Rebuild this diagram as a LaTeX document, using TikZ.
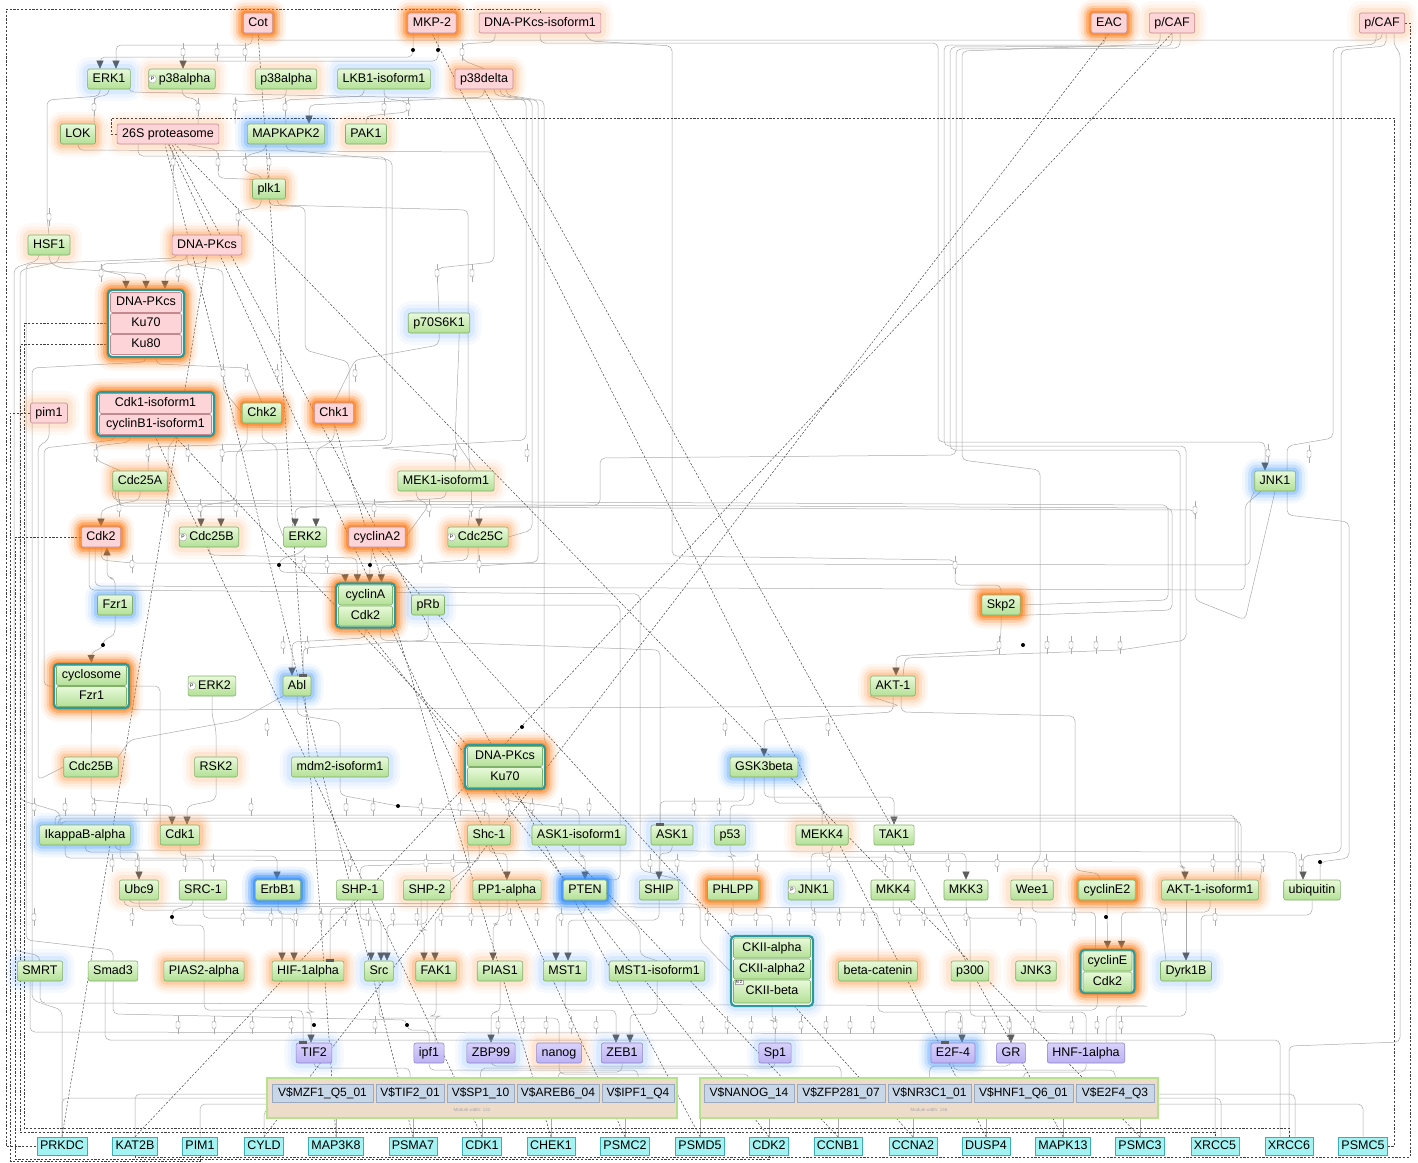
\documentclass[tikz,border=0pt]{standalone}
\usepackage{fontspec}
\setmainfont{Liberation Sans}
\usetikzlibrary{arrows.meta,backgrounds}
\pgfdeclarelayer{bgw}
\pgfsetlayers{bgw,background,main}
\definecolor{gTop}{HTML}{E8F9DA}
\definecolor{gBot}{HTML}{B3E096}
\definecolor{gBd}{HTML}{80B06A}
\definecolor{pF}{HTML}{FDD4D7}
\definecolor{pBd}{HTML}{C4898E}
\definecolor{uTop}{HTML}{D9D2FB}
\definecolor{uBot}{HTML}{BCB2F3}
\definecolor{uBd}{HTML}{8F86CF}
\definecolor{cF}{HTML}{A4F3F3}
\definecolor{cBd}{HTML}{3BAEB4}
\definecolor{tl}{HTML}{2B9A9D}
\definecolor{hOr}{HTML}{FF7A10}
\definecolor{hBl}{HTML}{2F8CFF}
\definecolor{wg}{HTML}{ABABAB}
\definecolor{arr}{HTML}{5E5E5E}
\definecolor{modG}{HTML}{B5E28A}
\definecolor{modT}{HTML}{EEDCCB}
\definecolor{cellB}{HTML}{C8D7E7}
\definecolor{cellBd}{HTML}{9AA9BF}
\newcommand{\nf}{\fontsize{12.5}{14}\selectfont}
\tikzset{
 nb/.style={rounded corners=2pt, inner xsep=5pt, inner ysep=0pt, minimum height=20pt, font=\nf, text height=9.3pt, text depth=2.7pt, line width=0.6pt},
 gn/.style={nb, draw=gBd, top color=gTop, bottom color=gBot},
 pk/.style={nb, draw=pBd, fill=pF},
 pu/.style={nb, draw=uBd, top color=uTop, bottom color=uBot},
 cy/.style={nb, draw=cBd, fill=cF, rounded corners=0pt, minimum height=18pt, inner xsep=3pt},
 rw/.style={inner xsep=0pt, rounded corners=1.5pt},
 hO/.style={preaction={draw=hOr, draw opacity=.07, line width=27pt, line join=round}, preaction={draw=hOr, draw opacity=.12, line width=21pt, line join=round}, preaction={draw=hOr, draw opacity=.22, line width=15pt, line join=round}, preaction={draw=hOr, draw opacity=.35, line width=10pt, line join=round}, preaction={draw=hOr, draw opacity=.55, line width=5pt, line join=round}},
 hOm/.style={preaction={draw=hOr, draw opacity=.05, line width=25pt, line join=round}, preaction={draw=hOr, draw opacity=.08, line width=19pt, line join=round}, preaction={draw=hOr, draw opacity=.12, line width=13pt, line join=round}, preaction={draw=hOr, draw opacity=.18, line width=7pt, line join=round}},
 hOl/.style={preaction={draw=hOr, draw opacity=.04, line width=24pt, line join=round}, preaction={draw=hOr, draw opacity=.06, line width=17pt, line join=round}, preaction={draw=hOr, draw opacity=.09, line width=10pt, line join=round}},
 hBs/.style={preaction={draw=hBl, draw opacity=.08, line width=27pt, line join=round}, preaction={draw=hBl, draw opacity=.14, line width=21pt, line join=round}, preaction={draw=hBl, draw opacity=.25, line width=15pt, line join=round}, preaction={draw=hBl, draw opacity=.4, line width=10pt, line join=round}, preaction={draw=hBl, draw opacity=.6, line width=5pt, line join=round}},
 hB/.style={preaction={draw=hBl, draw opacity=.05, line width=25pt, line join=round}, preaction={draw=hBl, draw opacity=.09, line width=19pt, line join=round}, preaction={draw=hBl, draw opacity=.14, line width=13pt, line join=round}, preaction={draw=hBl, draw opacity=.22, line width=7pt, line join=round}},
 hBl/.style={preaction={draw=hBl, draw opacity=.04, line width=24pt, line join=round}, preaction={draw=hBl, draw opacity=.06, line width=17pt, line join=round}, preaction={draw=hBl, draw opacity=.09, line width=10pt, line join=round}},
 cxo/.style={draw=tl, line width=2.2pt, rounded corners=4pt, fill=white, inner sep=0pt},
 pcirc/.style={circle, draw=gray!70, fill=white, inner sep=0pt, minimum size=8pt, font=\fontsize{5}{5}\selectfont},
 wire/.style={draw=wg, line width=0.5pt, rounded corners=5pt},
 wa/.style={wire, -{Triangle[length=8pt,width=7pt,color=arr]}},
 dsh/.style={draw=black!75, line width=0.45pt, dash pattern=on 2.2pt off 1.6pt},
 mk/.style={draw=gray!80, fill=white, line width=0.4pt, minimum width=4pt, minimum height=7pt, inner sep=0pt, rounded corners=1pt},
 dotm/.style={circle, fill=black, inner sep=0pt, minimum size=4pt},
 barm/.style={fill=arr, minimum width=8pt, minimum height=3pt, inner sep=0pt},
 modo/.style={draw=modG, line width=2pt, fill=modT, inner sep=0pt},
 cell/.style={draw=cellBd, fill=cellB, line width=0.6pt, inner sep=0pt, minimum height=18pt, font=\fontsize{12}{14}\selectfont},
 mlab/.style={font=\fontsize{4.5}{5}\selectfont, text=gray!70, inner sep=0pt}
}
\begin{document}
\begin{tikzpicture}[x=1pt,y=-1pt]
\useasboundingbox (0,0) rectangle (1418,1162);
\begin{pgfonlayer}{bgw}\fill[white] (0,0) rectangle (1418,1162);\end{pgfonlayer}
% ---------- nodes ----------
\node[pk,hO] (cot) at (258,23) {Cot};
\node[pk,hO] (mkp2) at (432,23) {MKP-2};
\node[pk,hOl] (dnapkiso) at (540,23) {DNA-PKcs-isoform1};
\node[pk,hO] (eac) at (1109,23) {EAC};
\node[pk,hOl] (pcafa) at (1172,23) {p/CAF};
\node[pk,hOl] (pcafb) at (1382,23) {p/CAF};
\node[gn,hBl] (erk1) at (109,79) {ERK1};
\node[gn,hOl] (p38a) at (182,79) {\hspace*{5pt}p38alpha};
\node[pcirc] (pc1) at ([xshift=4pt]p38a.west) {P};
\node[gn,hOl] (p38b) at (286,79) {p38alpha};
\node[gn,hBl] (lkb1) at (384,79) {LKB1-isoform1};
\node[pk,hOm] (p38d) at (484,79) {p38delta};
\node[gn,hOm] (lok) at (78,134) {LOK};
\node[pk,hOl] (s26) at (168,134) {26S proteasome};
\node[gn,hB] (mapk2) at (286,134) {MAPKAPK2};
\node[gn,hOl] (pak1) at (366,134) {PAK1};
\node[gn,hOm] (plk1) at (269,189) {plk1};
\node[gn,hOl] (hsf1) at (49,245) {HSF1};
\node[pk,hOm] (dnapk) at (207,245) {DNA-PKcs};
\node[cxo,hO,minimum width=76pt,minimum height=67pt] (cx1) at (146,323.5) {};
\node[pk,rw,minimum width=71pt] (cx1a) at (146,302.5) {DNA-PKcs};
\node[pk,rw,minimum width=71pt] (cx1b) at (146,323.5) {Ku70};
\node[pk,rw,minimum width=71pt] (cx1c) at (146,344.5) {Ku80};
\node[gn,hBl] (p70) at (439,323) {p70S6K1};
\node[pk,hOl] (pim1) at (49,413) {pim1};
\node[cxo,hO,minimum width=117pt,minimum height=44pt] (cx2) at (155.5,414) {};
\node[pk,rw,minimum width=112pt] (cx2a) at (155.5,403.5) {Cdk1-isoform1};
\node[pk,rw,minimum width=112pt] (cx2b) at (155.5,424.5) {cyclinB1-isoform1};
\node[gn,hO] (chk2) at (262,413) {Chk2};
\node[pk,hO] (chk1) at (334,413) {Chk1};
\node[gn,hOm] (cdc25a) at (140,481) {Cdc25A};
\node[gn,hOl] (mek1) at (446,481) {MEK1-isoform1};
\node[gn,hB] (jnk1a) at (1275,481) {JNK1};
\node[pk,hO] (cdk2) at (101,537) {Cdk2};
\node[gn,hOl] (cdc25b) at (209,537) {\hspace*{5pt}Cdc25B};
\node[pcirc] (pc2) at ([xshift=4pt]cdc25b.west) {P};
\node[gn] (erk2a) at (305,537) {ERK2};
\node[pk,hO] (cyca2) at (377,537) {cyclinA2};
\node[gn,hOm] (cdc25c) at (478,537) {\hspace*{5pt}Cdc25C};
\node[pcirc] (pc3) at ([xshift=4pt]cdc25c.west) {P};
\node[gn,hB] (fzr1) at (115,605) {Fzr1};
\node[cxo,hO,minimum width=59pt,minimum height=44pt] (cx3) at (365.5,605.5) {};
\node[gn,rw,minimum width=54pt] (cx3a) at (365.5,595) {cyclinA};
\node[gn,rw,minimum width=54pt] (cx3b) at (365.5,616) {Cdk2};
\node[gn,hBl] (prb) at (428,605) {pRb};
\node[gn,hO] (skp2) at (1001,605) {Skp2};
\node[cxo,hO,minimum width=75pt,minimum height=44pt] (cx4) at (91.5,686) {};
\node[gn,rw,minimum width=70pt] (cx4a) at (91.5,675.5) {cyclosome};
\node[gn,rw,minimum width=70pt] (cx4b) at (91.5,696.5) {Fzr1};
\node[gn] (erk2b) at (212,686) {\hspace*{5pt}ERK2};
\node[pcirc] (pc4) at ([xshift=4pt]erk2b.west) {P};
\node[gn,hB] (abl) at (297,686) {Abl};
\node[gn,hOm] (akt1) at (893,686) {AKT-1};
\node[gn,hOm] (cdc25b2) at (91,767) {Cdc25B};
\node[gn,hOl] (rsk2) at (216,767) {RSK2};
\node[gn,hBl] (mdm2) at (340,767) {mdm2-isoform1};
\node[cxo,hO,minimum width=80pt,minimum height=44pt] (cx5) at (505,767) {};
\node[gn,rw,minimum width=75pt] (cx5a) at (505,756.5) {DNA-PKcs};
\node[gn,rw,minimum width=75pt] (cx5b) at (505,777.5) {Ku70};
\node[gn,hB] (gsk3b) at (764,767) {GSK3beta};
\node[gn,hB] (ikba) at (85,835) {IkappaB-alpha};
\node[gn,hOm] (cdk1) at (180,835) {Cdk1};
\node[gn,hOm] (shc1) at (489,835) {Shc-1};
\node[gn,hBl] (ask1i) at (579,835) {ASK1-isoform1};
\node[gn,hBl] (ask1) at (672,835) {ASK1};
\node[gn,hBl] (p53) at (730,835) {p53};
\node[gn,hOl] (mekk4) at (822,835) {MEKK4};
\node[gn] (tak1) at (894,835) {TAK1};
\node[gn,hOl] (ubc9) at (139,890) {Ubc9};
\node[gn] (src1) at (203,890) {SRC-1};
\node[gn,hBs] (erbb1) at (278,890) {ErbB1};
\node[gn] (shp1) at (360,890) {SHP-1};
\node[gn,hOl] (shp2) at (427,890) {SHP-2};
\node[gn,hOm] (pp1a) at (507,890) {PP1-alpha};
\node[gn,hBs] (pten) at (585,890) {PTEN};
\node[gn,hBl] (ship) at (659,890) {SHIP};
\node[gn,hO] (phlpp) at (733,890) {PHLPP};
\node[gn,hBl] (jnk1b) at (811,890) {\hspace*{5pt}JNK1};
\node[pcirc] (pc5) at ([xshift=4pt]jnk1b.west) {P};
\node[gn] (mkk4) at (893,890) {MKK4};
\node[gn] (mkk3) at (966,890) {MKK3};
\node[gn,hOl] (wee1) at (1032,890) {Wee1};
\node[gn,hO] (cyce2) at (1107,890) {cyclinE2};
\node[gn,hOm] (akt1i) at (1210,890) {AKT-1-isoform1};
\node[gn] (ubiq) at (1312,890) {ubiquitin};
\node[gn,hBl] (smrt) at (40,971) {SMRT};
\node[gn] (smad3) at (113,971) {Smad3};
\node[gn,hOm] (pias2) at (204,971) {PIAS2-alpha};
\node[gn,hOm] (hif1a) at (308,971) {HIF-1alpha};
\node[gn,hBl] (src) at (379,971) {Src};
\node[gn,hOm] (fak1) at (436,971) {FAK1};
\node[gn,hOl] (pias1) at (500,971) {PIAS1};
\node[gn,hBl] (mst1) at (565,971) {MST1};
\node[gn,hBl] (mst1i) at (657,971) {MST1-isoform1};
\node[cxo,hBl,minimum width=82pt,minimum height=70pt] (cx6) at (772,971) {};
\node[gn,rw,minimum width=77pt] (cx6a) at (772,948) {CKII-alpha};
\node[gn,rw,minimum width=77pt] (cx6b) at (772,969) {CKII-alpha2};
\node[gn,rw,minimum width=77pt,minimum height=23pt] (cx6c) at (772,991.5) {CKII-beta};
\node[draw=gray!70, fill=white, inner sep=0.6pt, font=\fontsize{4}{4}\selectfont] (n2tag) at (739,982) {N 2};
\node[gn,hOm] (bcat) at (878,971) {beta-catenin};
\node[gn,hOl] (p300) at (970,971) {p300};
\node[gn,hOl] (jnk3) at (1036,971) {JNK3};
\node[cxo,hO,minimum width=54pt,minimum height=43pt] (cx7) at (1107.5,971.5) {};
\node[gn,rw,minimum width=49pt] (cx7a) at (1107.5,961) {cyclinE};
\node[gn,rw,minimum width=49pt] (cx7b) at (1107.5,982) {Cdk2};
\node[gn,hBl] (dyrk1b) at (1186,971) {Dyrk1B};
\node[pu,hBl] (tif2) at (314,1053) {TIF2};
\node[pu] (ipf1) at (429,1053) {ipf1};
\node[pu,hBl] (zbp99) at (491,1053) {ZBP99};
\node[pu,hOl] (nanog) at (559,1053) {nanog};
\node[pu,hBl] (zeb1) at (622,1053) {ZEB1};
\node[pu,hBl] (sp1) at (775,1053) {Sp1};
\node[pu,hB] (e2f4) at (953,1053) {E2F-4};
\node[pu] (gr) at (1011,1053) {GR};
\node[pu] (hnf1a) at (1086,1053) {HNF-1alpha};
% modules
\node[modo,minimum width=410pt,minimum height=40pt] (m1) at (472,1098) {};
\node[cell,minimum width=101pt] (m1a) at (322.5,1093) {V\$MZF1\_Q5\_01};
\node[cell,minimum width=68pt] (m1b) at (410,1093) {V\$TIF2\_01};
\node[cell,minimum width=67pt] (m1c) at (480.5,1093) {V\$SP1\_10};
\node[cell,minimum width=82pt] (m1d) at (558,1093) {V\$AREB6\_04};
\node[cell,minimum width=72pt] (m1e) at (638,1093) {V\$IPF1\_Q4};
\node[mlab] (m1l) at (472,1110) {Module width: 122};
\node[modo,minimum width=458pt,minimum height=40pt] (m2) at (929,1098) {};
\node[cell,minimum width=90pt] (m2a) at (749,1093) {V\$NANOG\_14};
\node[cell,minimum width=88pt] (m2b) at (841,1093) {V\$ZFP281\_07};
\node[cell,minimum width=83pt] (m2c) at (929.5,1093) {V\$NR3C1\_01};
\node[cell,minimum width=99pt] (m2d) at (1023.5,1093) {V\$HNF1\_Q6\_01};
\node[cell,minimum width=78pt] (m2e) at (1115,1093) {V\$E2F4\_Q3};
\node[mlab] (m2l) at (929,1110) {Module width: 146};
% genes
\node[cy] (prkdc) at (62,1146) {PRKDC};
\node[cy] (kat2b) at (135,1146) {KAT2B};
\node[cy] (pim1g) at (200,1146) {PIM1};
\node[cy] (cyld) at (264,1146) {CYLD};
\node[cy] (map3k8) at (336,1146) {MAP3K8};
\node[cy] (psma7) at (413,1146) {PSMA7};
\node[cy] (cdk1g) at (482,1146) {CDK1};
\node[cy] (chek1) at (551,1146) {CHEK1};
\node[cy] (psmc2) at (625,1146) {PSMC2};
\node[cy] (psmd5) at (700,1146) {PSMD5};
\node[cy] (cdk2g) at (769,1146) {CDK2};
\node[cy] (ccnb1) at (838,1146) {CCNB1};
\node[cy] (ccna2) at (913,1146) {CCNA2};
\node[cy] (dusp4) at (986,1146) {DUSP4};
\node[cy] (mapk13) at (1063,1146) {MAPK13};
\node[cy] (psmc3) at (1140,1146) {PSMC3};
\node[cy] (xrcc5) at (1215,1146) {XRCC5};
\node[cy] (xrcc6) at (1289,1146) {XRCC6};
\node[cy] (psmc5) at (1363,1146) {PSMC5};
% modifier markers with stubs
\foreach \x/\y [count=\i] in {183/52,217/52,245/52,462/52,
 94/107,198/107,235/107,285/107,384/107,408/107,
 173/162,218/162,245/162,269/162, 49/217,238/217,
 101/273,178/273,437/273,472/273, 223/373,247/373,277/373,355/373,
 96/453,148/453,188/453,222/453,455/453,527/453,
 119/508,168/508,200/508,236/508,374/508,429/508,471/508,
 132/564,304/564,327/564,421/564,479/564, 283/645,307/645,
 267/727,725/727,828/727,
 34/807,65/807,94/807,146/807,251/807,346/807,373/807,421/807,460/807,484/807,508/807,532/807,561/807,589/807,694/807,719/807,
 112/863,137/863,185/863,213/863,350/863,426/863,453/863,650/863,677/863,757/863,829/863,885/863,910/863,948/863,997/863,1046/863,1213/863,1238/863,1263/863,1301/863,
 34/917,132/917,243/917,271/917,296/917,321/917,345/917,368/917,393/917,417/917,441/917,471/917,510/917,537/917,561/917,682/917,707/917,731/917,756/917,789/917,814/917,839/917,863/917,899/917,924/917,966/917,1020/917,1074/917,1165/917,1215/917,
 178/1025,214/1025,252/1025,291/1025,375/1025,498/1025,523/1025,546/1025,571/1025,596/1025,702/1025,727/1025,751/1025,775/1025,801/1025,826/1025,850/1025,873/1025,960/1025,984/1025,1009/1025,1033/1025,1072/1025,1097/1025,1121/1025,
 1268/453,1309/454,1195/510,955/565,999/645,1047/645,1071/645,1096/645,1120/645}
 {\draw[wire] (\x,\y-9) -- (\x,\y+9); \node[mk] (mk\i) at (\x,\y) {};}
\foreach \x/\y [count=\i] in {413/50,438/50,103/645,279/565,370/565,398/806,172/917,314/1025,407/1025,1023/645,1106/917,1320/862,522/727}
 {\node[dotm] (dot\i) at (\x,\y) {};}
\node[barm] (bar1) at (303,675) {};
\node[barm] (bar2) at (660,824) {};
\node[barm] (bar3) at (330,960) {};
\node[barm] (bar4) at (303,1042) {};
\node[barm] (bar5) at (945,1042) {};
% ---------- connectors ----------
\begin{scope}[on background layer]
% top
\draw[wire] (cot.south) -- (258,40) -- (1382,40) -- (pcafb.south);
\draw[wa] ([xshift=-6pt]cot.south) -- (252,45) -- (116,45) -- ([xshift=7pt]erk1.north);
\draw[wa] ([xshift=-19pt]mkp2.south) -- (413,57) -- (100,57) -- ([xshift=-9pt]erk1.north);
\draw[wa] ([xshift=6pt]mkp2.south) -- (438,61) -- (183,61) -- ([xshift=1pt]p38a.north);
\draw[wa] (dnapkiso.south) -- (540,43) -- (938,43) -- (938,442) -- (1265,442) -- ([xshift=-10pt]jnk1a.north);
\draw[wire] ([xshift=-4pt]eac.south) -- (1105,45) -- (944,45) -- (944,446) -- (1186,446) -- (1186,640) -- (1120,650) -- (905,658) -- ([xshift=10pt]akt1.north);
\draw[wa] (pcafa.south) -- (1172,46) -- (950,47) -- (950,450) -- (1180,450) -- (1180,866) -- (1185,868) -- ([xshift=-25pt]akt1i.north);
\draw[wa] ([xshift=8pt]pcafa.south) -- (1180,48) -- (956,49) -- (956,455) -- (600,458) -- (600,505) -- (479,507) -- ([xshift=1pt]cdc25c.north);
\draw[wire] ([xshift=-12pt]pcafa.south) -- (1160,44) -- (962,51) -- (962,460) -- (1040,470) -- (1040,860) -- (1032,865) -- (wee1.north);
\draw[wire] ([xshift=-6pt]pcafb.south) -- (1376,44) -- (1333,48) -- (1333,438) -- (1287,446) -- ([xshift=12pt]jnk1a.north);
\draw[wa] ([xshift=4pt]pcafb.south) -- (1386,46) -- (1341,50) -- (1341,852) -- (1303,856) -- ([xshift=-9pt]ubiq.north);
\draw[wire] ([xshift=12pt]jnk1a.south) -- (1287,515) -- (1349,522) -- (1349,858) -- (1320,862) -- ([xshift=8pt]ubiq.north);
\draw[wire] ([xshift=12pt]pcafb.south) -- (1394,46) -- (1400,52) -- (1400,1042) -- (1289,1046) -- (xrcc6.north);
\draw[wire] ([xshift=45pt]dnapkiso.south) -- (590,41) -- (672,46) -- (672,556) -- (955,560) -- (955,585) -| (skp2.north);
\draw[wire] ([xshift=-45pt]dnapkiso.south) -- (495,42) -- (462,44) -- (462,60) -- (p38d.north);
% row 79 -> 134
\draw[wire] (erk1.south) -- (109,95) -- (94,97) -- ([xshift=16pt]lok.north);
\draw[wire] ([xshift=-9pt]erk1.south) -- (100,96) -- (47,100) -- (47,217) -- (hsf1.north);
\draw[wa] (p38d.south) -- (484,97) -- (309,105) -- ([xshift=23pt]mapk2.north);
\draw[wire] (p38b.south) -- (286,98) -- (235,102) -| ([xshift=-51pt]mapk2.north);
\draw[wire] (lkb1.south) -- (384,98) -- (408,102) -- (408,112) -- (366,116) -- (pak1.north);
\draw[wire] ([xshift=-20pt]lkb1.south) -- (364,96) -- (285,100) -- (mapk2.north);
\draw[wire] (p38a.south) -- (182,96) -- (198,100) -- (198,116) -- ([xshift=30pt]s26.north);
\draw[wire] ([xshift=10pt]p38d.south) -- (494,95) -- (526,100) -- (526,440) -- (380,448) -- (455,455) -- ([xshift=9pt]mek1.north);
\draw[wire] ([xshift=16pt]p38d.south) -- (500,95) -- (532,100) -- (532,530) -- (cdc25c.east);
\draw[wire] ([xshift=22pt]p38d.south) -- (506,95) -- (538,100) -- (538,562) -- (478,566) -- (cdc25c.south);
\draw[wire] ([xshift=20pt]erk1.south) -- (129,92) -- (544,100) -- (544,740) -- (cx5.north east);
% row 134 -> 245
\draw[wire] (lok.south) -- (78,150) -- (494,152) -- (494,262) -- (437,268) -- (p70.north);
\draw[wire] ([xshift=-30pt]s26.south) -- (138,156) -- (386,157) -- (386,440) -- (148,447) -- ([xshift=8pt]cdc25a.north);
\draw[wa] (mapk2.south) -- (286,150) -- (392,160) -- (392,445) -- (221,452) -- ([xshift=12pt]cdc25b.north);
\draw[wire] ([xshift=-20pt]mapk2.south) -- (266,150) -- (245,156) -- (245,172) -- (262,176) -- ([xshift=-7pt]plk1.north);
\draw[wire] (s26.south) -- (173,152) -- (173,230) -- ([xshift=-34pt]dnapk.north);
\draw[wire] ([xshift=20pt]s26.south) -- (218,150) -- (218,178) -- (269,180) -- (plk1.north);
\draw[wire] (plk1.south) -- (269,205) -- (305,207) -- (305,350) -- (349,362) -- ([xshift=15pt]chk1.north);
\draw[wire] ([xshift=-8pt]plk1.south) -- (261,207) -- (238,211) -- ([xshift=31pt]dnapk.north);
\draw[wire] ([xshift=8pt]plk1.south) -- (277,205) -- (468,210) -- (468,440) -- (472,500) -- ([xshift=-10pt]cdc25c.north);
% DNA-PKcs row
\draw[wa] (dnapk.south) -- (207,262) -- (178,266) -- (165,272) -- ([xshift=19pt]cx1.north);
\draw[wa] ([xshift=-20pt]dnapk.south) -- (187,260) -- (101,264) -- (101,270) -- (126,276) -- ([xshift=-20pt]cx1.north);
\draw[wa] (hsf1.south) -- (49,262) -- (60,268) -- (146,274) -- (cx1.north);
\draw[wire] ([xshift=-10pt]hsf1.south) -- (39,260) -- (14,268) -- (14,950) -- (40,956) -- (smrt.north);
\draw[wire] ([xshift=10pt]hsf1.south) -- (59,262) -- (20,270) -- (20,800) -- (60,812) -- ([xshift=-25pt]ikba.north);
\draw[wire] ([xshift=-30pt]dnapk.south) -- (177,258) -- (26,264) -- (26,940) -- (113,950) -- (smad3.north);
\draw[wire] (cx1.south) -- (146,362) -- (32,368) -- (32,1000) -- (62,1010) -- (62,1070) -- (prkdc.north);
\draw[wire] ([xshift=10pt]cx1.south) -- (156,364) -- (247,368) -- (chk2.north);
\draw[wire] (p70.south) -- (439,345) -- (355,360) -- (chk1.north);
\draw[wire] ([xshift=20pt]p70.south) -- (459,345) -- (455,440) -- ([xshift=30pt]mek1.north);
\draw[wire] ([xshift=-20pt]dnapk.south) -- (187,265) -- (223,270) -- (223,390) -- (chk2.west);
% row 413 -> 481/537
\draw[wire] (pim1.south) -- (49,440) -- (38,446) -- (38,780) -- (cdc25b2.west);
\draw[wire] ([xshift=-40pt]cx2.south) -- (115,440) -- (44,448) -- (44,686) -- (cx4.west);
\draw[wire] ([xshift=-25pt]cx2.south) -- (130,442) -- (96,446) -- (96,460) -- ([xshift=-20pt]cdc25a.north);
\draw[wa] (cdc25a.south) -- (140,500) -- (119,504) -- (101,510) -- (cdk2.north);
\draw[wa] ([xshift=-15pt]chk2.south) -- (247,445) -- (236,452) -- (236,500) -- (201,506) -- ([xshift=-8pt]cdc25b.north);
\draw[wa] (chk1.south) -- (334,440) -- (316,450) -- ([xshift=11pt]erk2a.north);
\draw[wa] (mek1.south) -- (446,498) -- (373,503) -- (295,508) -- ([xshift=-10pt]erk2a.north);
\draw[wire] ([xshift=20pt]cx2.south) -- (175,440) -- (168,446) -- (168,500) -- (cdc25a.east);
\draw[wire] (chk2.south) -- (262,440) -- (277,446) -- (277,520) -- (erk2a.west);
\draw[wire] ([xshift=-30pt]mek1.south) -- (416,498) -- (429,505) -- (cyca2.east);
\draw[wire] (cdc25a.south west) -- (113,500) -- (1168,505) -- (1168,600) -- (skp2.east);
\draw[wire] ([xshift=3pt]cdc25a.south west) -- (116,503) -- (1172,508) -- (1172,610) -- (skp2.south east);
\draw[wire] ([xshift=6pt]cdc25a.south west) -- (119,506) -- (1195,510) -- (1195,600) -- (1245,620) -- (jnk1a.south);
% row 537 -> 605
\draw[wa] (erk2a.south) -- (302,552) -- (279,560) -- (279,572) -- (345,574) -- ([xshift=-20pt]cx3.north);
\draw[wa] ([xshift=-5pt]cyca2.south) -- (372,556) -- (370,565) -- ([xshift=4pt]cx3.north);
\draw[wa] (cdc25b.south) -- (209,555) -- (357,558) -- ([xshift=-8pt]cx3.north);
\draw[wa] ([xshift=-10pt]cdc25c.south) -- (468,560) -- (381,566) -- ([xshift=16pt]cx3.north);
\draw[wa] (fzr1.north) -- (115,578) -- (107,578) -- ([xshift=6pt]cdk2.south);
\draw[wire] (cdk2.south) -- (101,560) -- (132,563) -- (1250,565) -- (1250,500) -- (jnk1a.south west);
\draw[wire] ([xshift=-6pt]cdk2.south) -- (95,586) -- (1245,590) -- (1245,505) -- ([xshift=-14pt]jnk1a.south);
\draw[wire] ([xshift=-12pt]cdk2.south) -- (89,590) -- (640,594) -- (640,870) -- (ship.north east);
% row 605 -> 686
\draw[wa] (fzr1.south) -- (115,635) -- (103,640) -- (103,648) -- (91,652) -- (cx4.north);
\draw[wa] (cx3.south) -- (365,638) -- (292,642) -- ([xshift=-5pt]abl.north);
\draw[wire] (prb.south) -- (428,640) -- (303,648) -- ([xshift=6pt]abl.north);
\draw[wa] (skp2.south) -- (1001,632) -- (999,650) -- (896,656) -- ([xshift=3pt]akt1.north);
\draw[wire] ([xshift=15pt]cx3.south) -- (380,640) -- (660,650) -- (660,870) -- (ship.north);
\draw[wire] (prb.east) -- (620,605) -- (620,880) -- (pten.north east);
\draw[wire] (cx4.east) -- (160,686) -- (160,820) -- (cdk1.north west);
% row 686 -> 767
\draw[wire] (cx4.south) -- (cdc25b2.north);
\draw[wire] (erk2b.south) -- (212,715) -- (216,730) -- (rsk2.north);
\draw[wire] (abl.south) -- (297,715) -- (340,722) -- (mdm2.north);
\draw[wa] (akt1.south) -- (893,712) -- (764,720) -- (gsk3b.north);
\draw[wire] ([xshift=8pt]akt1.south) -- (901,712) -- (1075,716) -- (1075,870) -- (1100,874) -- ([xshift=-7pt]cyce2.north);
\draw[wire] (cx4.south east) -- (140,710) -- (900,706) -- (akt1.south west);
\draw[wire] (abl.south west) -- (240,720) -- (130,740) -- (cdc25b2.north east);
% row 767 -> 835
\draw[wa] (cdc25b2.south) -- (91,800) -- (172,806) -- ([xshift=-8pt]cdk1.north);
\draw[wa] (rsk2.south) -- (216,800) -- (187,806) -- ([xshift=7pt]cdk1.north);
\draw[wire] (mdm2.south) -- (340,795) -- (398,806) -- (489,812) -- (shc1.north);
\draw[wire] (cx5.south) -- (505,800) -- (579,810) -- (ask1i.north);
\draw[wa] (gsk3b.south) -- (764,797) -| (tak1.north);
\draw[wire] ([xshift=-20pt]gsk3b.south) -- (744,801) -| ([xshift=-12pt]ask1.north);
\draw[wire] ([xshift=-10pt]gsk3b.south) -- (754,805) -| (p53.north);
\draw[wire] ([xshift=10pt]gsk3b.south) -- (774,803) -| (mekk4.north);
\draw[wire] ([xshift=-30pt]ikba.north) -- (55,815) -- (1235,815) -- ([xshift=25pt]akt1i.north);
\draw[wire] ([xshift=-27pt]ikba.north) -- (58,818) -- (1238,818) -- ([xshift=28pt]akt1i.north);
\draw[wire] ([xshift=-24pt]ikba.north) -- (61,821) -- (1241,821) -- ([xshift=31pt]akt1i.north);
% row 835 -> 890
\draw[wa] (ikba.south) -- (85,852) -| (ubc9.north);
\draw[wa] (cdk1.south) -- (180,856) -| ([xshift=-1pt]erbb1.north);
\draw[wa] (shc1.south) -- (489,853) -| (pp1a.north);
\draw[wa] (ask1i.south) -- (579,856) -| (pten.north);
\draw[wa] (ask1.south) -- (672,853) -| (ship.north);
\draw[wa] (tak1.south) -- (894,853) -| (mkk3.north);
\draw[wire] (mekk4.south) -- (822,857) -| (mkk4.north);
\draw[wire] (p53.south) -- (730,856) -| (phlpp.north);
\draw[wire] ([xshift=10pt]mekk4.south) -- (832,853) -| (jnk1b.north);
\draw[wire] ([xshift=-20pt]ikba.south) -- (65,858) -| (src1.north);
\draw[wire] ([xshift=30pt]ikba.south) -- (115,850) -- (1296,852) -- ([xshift=-16pt]ubiq.north);
\draw[wire] ([xshift=35pt]ikba.south) -- (120,860) -- (1263,862) -- ([xshift=50pt]akt1i.north);
\draw[wire] (shc1.south west) -- (470,866) -- (shp2.north east);
\draw[wire] ([xshift=-10pt]shc1.south) -- (479,862) -- (360,866) -- (shp1.north);
% row 890 -> 971
\draw[wa] (ubc9.south) -- (139,910) -| ([xshift=-26pt]hif1a.north);
\draw[wa] (src1.south) -- (203,918) -| ([xshift=-14pt]hif1a.north);
\draw[wa] (erbb1.south) -- (278,914) -| ([xshift=-8pt]src.north);
\draw[wa] (shp1.south) -- (360,920) -| ([xshift=2pt]src.north);
\draw[wa] (shp2.south) -- (427,924) -| ([xshift=8pt]src.north);
\draw[wa] ([xshift=-6pt]shp2.south) -- (421,930) -| ([xshift=-12pt]fak1.north);
\draw[wa] (pp1a.south) -- (507,916) -| ([xshift=-1pt]fak1.north);
\draw[wa] ([xshift=-8pt]pp1a.south) -- (499,924) -| ([xshift=-7pt]pias1.north);
\draw[wa] (pten.south) -- (585,914) -| ([xshift=-9pt]mst1.north);
\draw[wa] (ship.south) -- (659,920) -| ([xshift=3pt]mst1.north);
\draw[wa] (cyce2.south) -- (cx7.north);
\draw[wa] (akt1i.south) -- (1210,912) -| ([xshift=14pt]cx7.north);
\draw[wa] ([xshift=-24pt]akt1i.south) -- (dyrk1b.north);
\draw[wire] (phlpp.south) -- (733,915) -| (cx6.north);
\draw[wire] (jnk1b.south) -- (811,912) -| (bcat.north);
\draw[wire] (mkk4.south) -- (893,915) -| (p300.north);
\draw[wire] (mkk3.south) -- (966,918) -| (jnk3.north);
\draw[wire] (wee1.south) -- (1032,912) -| ([xshift=-12pt]cx7.north);
\draw[wire] ([xshift=-10pt]src1.south) -- (193,906) -- (172,910) -- (172,925) -| (pias2.north);
\draw[wire] ([xshift=-8pt]shp1.south) -- (352,908) -| ([xshift=22pt]hif1a.north);
\draw[wire] (ubiq.south) -- (1312,915) -| ([xshift=15pt]dyrk1b.north);
\draw[wire] ([xshift=-15pt]ubc9.south) -- (124,906) -- (1160,908) -- ([xshift=-20pt]dyrk1b.north);
\draw[wire] ([xshift=-10pt]ubc9.south) -- (129,903) -- (700,904) -- (700,940) -- (cx6.west);
\draw[wire] (pten.south east) -- (640,930) -- (640,955) -- (mst1i.north);
% row 971 -> 1053
\draw[wa] (hif1a.south) -- (308,1012) -| ([xshift=-3pt]tif2.north);
\draw[wa] (pias1.south) -- (500,1012) -| (zbp99.north);
\draw[wa] (mst1.south) -- (565,1010) -| ([xshift=-6pt]zeb1.north);
\draw[wa] (mst1i.south) -- (657,1014) -| ([xshift=8pt]zeb1.north);
\draw[wa] (bcat.south) -- (878,1012) -| ([xshift=9pt]e2f4.north);
\draw[wa] (p300.south) -- (970,1016) -| (gr.north);
\draw[wire] (cx6.south) -- (772,1020) -| (sp1.north);
\draw[wire] (jnk3.south) -- (1036,1012) -| (hnf1a.north);
\draw[wire] (smad3.south) -- (113,1014) -- (407,1020) -- (407,1030) -| (ipf1.north);
\draw[wire] (src.south) -- (379,1018) -| (nanog.north);
\draw[wire] (pias2.south) -- (204,1010) -| ([xshift=-11pt]tif2.north);
\draw[wire] ([xshift=-10pt]cx7.south) -- (1097,1010) -| ([xshift=-8pt]e2f4.north);
\draw[wire] (dyrk1b.south) -- (1186,1016) -| ([xshift=20pt]hnf1a.north);
\draw[wire] (fak1.south) -- (436,1016) -| ([xshift=6pt]ipf1.north);
\draw[wire] (smrt.south) -- (40,1003) -- (1150,1006) -| ([xshift=30pt]hnf1a.north);
\draw[wire] ([xshift=-10pt]smrt.south) -- (30,1032) -- (1215,1034) -- (xrcc5.north);
\draw[wire] ([xshift=-8pt]smad3.south) -- (105,1040) -- (1280,1040) -- ([xshift=-9pt]xrcc6.north);
% TFs -> modules
\draw[wire] (tif2.south) -- (314,1068) -| (m1b.north);
\draw[wire] (ipf1.south) -- (429,1070) -| (m1e.north);
\draw[wire] (zbp99.south) -- (491,1066) -| (m2b.north);
\draw[wire] (zeb1.south) -- (622,1072) -| (m1d.north);
\draw[wire] (sp1.south) -- (775,1068) -| (m1c.north);
\draw[wire] (nanog.south) -- (559,1074) -| (m2a.north);
\draw[wire] (e2f4.south) -- (953,1070) -| (m2e.north);
\draw[wire] (gr.south) -- (1011,1066) -| (m2c.north);
\draw[wire] (hnf1a.south) -- (1086,1072) -| (m2d.north);
% modules -> genes
\draw[wire] (m1.west) -| (prkdc.north);
\draw[wire] ([yshift=4pt]m1.west) -| (kat2b.north);
\draw[wire] ([yshift=-6pt]m1.west) -| (pim1g.north);
\draw[wire] ([yshift=-12pt]m1.west) -| (cyld.north);
\draw[wire] (map3k8.north) -- (map3k8.north |- m1.south);
\draw[wire] (psma7.north) -- (psma7.north |- m1.south);
\draw[wire] (cdk1g.north) -- (cdk1g.north |- m1.south);
\draw[wire] (chek1.north) -- (chek1.north |- m1.south);
\draw[wire] (psmc2.north) -- (psmc2.north |- m1.south);
\draw[wire] (psmd5.north) -- (psmd5.north |- m2.south);
\draw[wire] (cdk2g.north) -- (cdk2g.north |- m2.south);
\draw[wire] (ccnb1.north) -- (ccnb1.north |- m2.south);
\draw[wire] (ccna2.north) -- (ccna2.north |- m2.south);
\draw[wire] (dusp4.north) -- (dusp4.north |- m2.south);
\draw[wire] (mapk13.north) -- (mapk13.north |- m2.south);
\draw[wire] (psmc3.north) -- (psmc3.north |- m2.south);
\draw[wire] (m2.east) -| ([xshift=6pt]xrcc5.north);
\draw[wire] ([yshift=4pt]m2.east) -| ([xshift=6pt]xrcc6.north);
\draw[wire] ([yshift=-6pt]m2.east) -| (psmc5.north);
% dashed gene links
\draw[dsh] (prkdc.north) -- (dnapk.south);
\draw[dsh] (kat2b.north) -- (cx5.north);
\draw[dsh] (pcafa.south) -- (cx5.north);
\draw[dsh] (cyld.north) -- (eac.south);
\draw[dsh] (map3k8.north) -- (cot.south);
\draw[dsh] (psma7.north) -- ([xshift=-3pt]s26.south);
\draw[dsh] (cdk1g.north) -- (cx2.south);
\draw[dsh] (chek1.north) -- (chk1.south);
\draw[dsh] (psmc2.north) -- ([xshift=1pt]s26.south);
\draw[dsh] (psmd5.north) -- ([xshift=4pt]s26.south);
\draw[dsh] (cdk2g.north) -- (cx3.south);
\draw[dsh] (ccnb1.north) -- ([xshift=20pt]cx2.south);
\draw[dsh] (ccna2.north) -- (cyca2.south);
\draw[dsh] (dusp4.north) -- (mkp2.south);
\draw[dsh] (mapk13.north) -- (p38d.south);
\draw[dsh] (psmc3.north) -- ([xshift=7pt]s26.south);
\draw[dsh] (dnapkiso.north) -- (540,9) -- (6,9) -- (6,1146) -- (prkdc.west);
\draw[dsh] (s26.west) -- (111,134) -- (111,118) -- (1394,118) -- (1394,1146) -- (psmc5.east);
\draw[dsh] (pcafb.east) -- (1410,23) -- (1410,1157) -- (135,1157) -- (kat2b.south);
\draw[dsh] (cx1b.west) -- (24,323.5) -- (24,1128) -- (1289,1128) -- (xrcc6.north);
\draw[dsh] (cx1c.west) -- (20,344.5) -- (20,1132) -- (1215,1132) -- (xrcc5.north);
\draw[dsh] (pim1.west) -- (10,413) -- (10,1161) -- (200,1161) -- (pim1g.south);
\draw[dsh] (cdk2.west) -- (15,537) -- (15,1159) -- (769,1159) -- (cdk2g.south);
\end{scope}
\end{tikzpicture}
\end{document}
